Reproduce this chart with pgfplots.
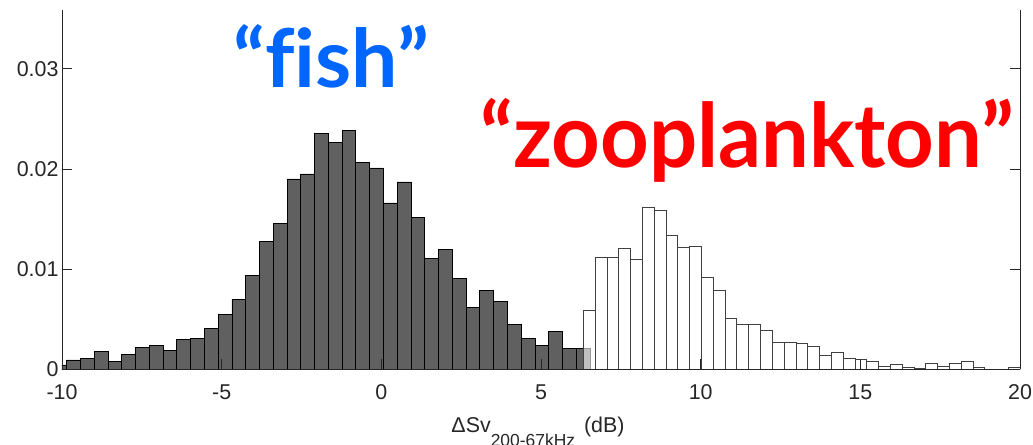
\documentclass[border=0pt]{standalone}
\usepackage{fontspec}
\setmainfont{Liberation Sans}
\newfontfamily\lato[Ligatures=NoCommon]{Lato}
\usepackage{pgfplots}
\pgfplotsset{compat=1.18}
\definecolor{darkbar}{HTML}{606060}
\definecolor{fishblue}{HTML}{0066FF}
\definecolor{zred}{HTML}{FF0000}
\definecolor{axgray}{HTML}{262626}
\begin{document}
\begin{tikzpicture}
\useasboundingbox (-62bp,-75.7bp) rectangle (971bp,369.3bp);
\begin{axis}[
 at={(0,0)}, anchor=south west,
 scale only axis, width=958bp, height=359.3bp,
 xmin=-10, xmax=20, ymin=0, ymax=0.03586,
 axis x line*=bottom, axis y line*=box,
 xtick pos=bottom, ytick pos=both, yticklabel pos=left,
 tick align=inside, major tick length=10bp,
 xtick={-10,-5,0,5,10,15,20}, xticklabels={-10,-5,0,5,10,15,20},
 ytick={0,0.01,0.02,0.03}, yticklabels={0,0.01,0.02,0.03},
 ticklabel style={font=\fontsize{21.5}{24}\selectfont, text=axgray},
 xticklabel style={yshift=-12bp},
 axis line style={axgray, line width=0.8bp},
 every tick/.style={axgray, line width=0.8bp},
 axis on top,
 xlabel={ΔSv\raisebox{-14.5bp}{\fontsize{17.5}{17.5}\selectfont 200-67kHz}\hspace{3bp} (dB)},
 xlabel style={font=\fontsize{21.5}{24}\selectfont, text=axgray, anchor=base, at={(axis description cs:0.5,0)}, yshift=-63bp, xshift=-3bp},
 clip=true,
]
\addplot[ybar interval, fill=darkbar, draw=black, line width=0.8bp] table {
x y
-10.285 0.00043
-9.854 0.00093
-9.423 0.00106
-8.991 0.00176
-8.560 0.0008
-8.129 0.0015
-7.698 0.0022
-7.266 0.0024
-6.835 0.0019
-6.404 0.0030
-5.972 0.0031
-5.541 0.0041
-5.110 0.0055
-4.678 0.0070
-4.247 0.0094
-3.816 0.0128
-3.385 0.0146
-2.953 0.0190
-2.522 0.0195
-2.091 0.0235
-1.659 0.0226
-1.228 0.0238
-0.797 0.0206
-0.365 0.0201
0.066 0.0166
0.497 0.0187
0.929 0.0152
1.360 0.0111
1.791 0.0120
2.222 0.0091
2.654 0.0062
3.085 0.0079
3.516 0.0068
3.948 0.0045
4.379 0.0031
4.810 0.0024
5.241 0.0038
5.673 0.0021
6.104 0.0021
6.535 0.0021
};
\addplot[ybar interval, fill=white, fill opacity=0.6, draw=black!75, line width=0.8bp] table {
x y
6.327 0.00585
6.697 0.01114
7.066 0.01114
7.436 0.01204
7.806 0.01101
8.176 0.01616
8.545 0.01587
8.915 0.01337
9.285 0.01217
9.654 0.0123
10.024 0.00914
10.394 0.00785
10.763 0.00509
11.133 0.00452
11.503 0.00452
11.873 0.00386
12.242 0.00269
12.612 0.00269
12.982 0.00256
13.351 0.00229
13.721 0.00139
14.091 0.00166
14.460 0.00113
14.830 0.0010
15.200 0.00083
15.570 0.00033
15.939 0.0005
16.309 0.0002
16.679 0.0001
17.048 0.0006
17.418 0.0003
17.788 0.0006
18.157 0.00083
18.527 0.0002
18.897 0.0
19.266 0.0
19.636 0.0002
20.006 0.0002
};
\node[anchor=base west, inner sep=0, text=fishblue, font=\lato\bfseries\fontsize{81}{84}\selectfont] at (axis cs:-4.645,0.02814) {\scalebox{1.02}[1]{“fish”}};
\node[anchor=base west, inner sep=0, text=zred, font=\lato\bfseries\fontsize{89}{92}\selectfont] at (axis cs:3.091,0.02014) {\scalebox{0.957}[1]{“zooplankton”}};
\end{axis}
\end{tikzpicture}
\end{document}
